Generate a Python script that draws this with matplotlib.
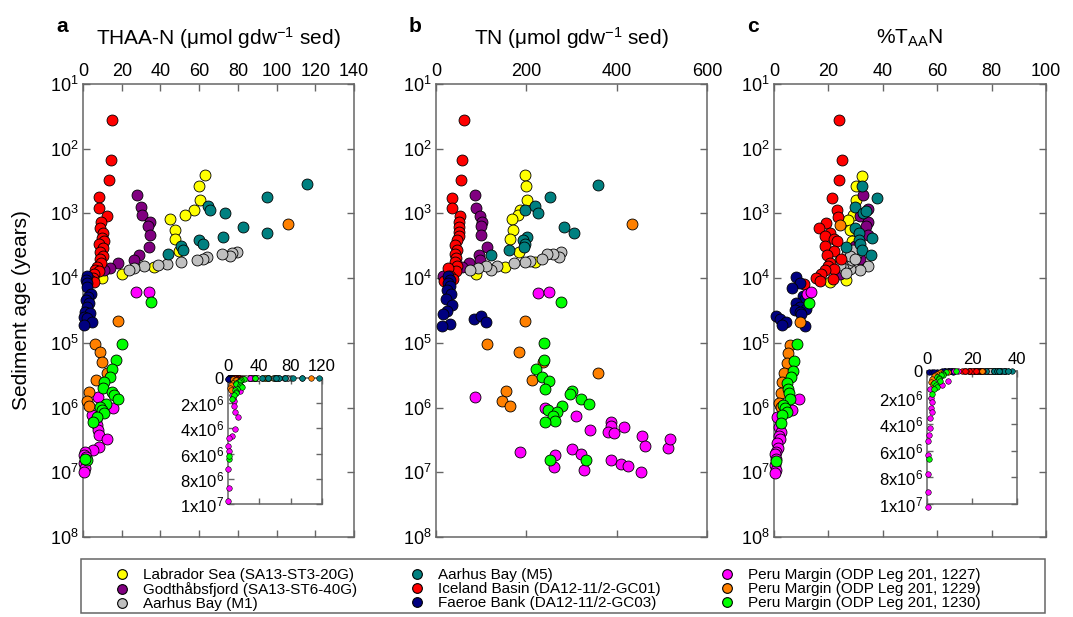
import matplotlib
matplotlib.use("Agg")
import matplotlib.pyplot as plt
from matplotlib.lines import Line2D
from matplotlib.patches import Rectangle
from matplotlib.ticker import FuncFormatter, LogLocator, MultipleLocator, NullLocator

plt.rcParams["font.family"] = ["Liberation Sans", "DejaVu Sans"]
plt.rcParams["mathtext.fontset"] = "custom"
plt.rcParams["mathtext.rm"] = "Liberation Sans"
plt.rcParams["mathtext.it"] = "Liberation Sans:italic"

SITES = [
    "Labrador Sea (SA13-ST3-20G)",
    "Godthåbsfjord (SA13-ST6-40G)",
    "Aarhus Bay (M1)",
    "Aarhus Bay (M5)",
    "Iceland Basin (DA12-11/2-GC01)",
    "Faeroe Bank (DA12-11/2-GC03)",
    "Peru Margin (ODP Leg 201, 1227)",
    "Peru Margin (ODP Leg 201, 1229)",
    "Peru Margin (ODP Leg 201, 1230)",
]
COLORS = ["#ffff00", "#800080", "#c0c0c0", "#008080", "#ff0000",
          "#000080", "#ff00ff", "#ff8000", "#00ff00"]

# (value, log10 sediment age in years)

# panel a: THAA-N
LAB_A = [(63.1, 2.40), (59.7, 2.58), (60.3, 2.80), (57.1, 2.94), (52.8, 3.02), (45.1, 3.09),
         (47.3, 3.25), (47.6, 3.40), (49.4, 3.58), (36.5, 3.83), (20.3, 3.93), (9.8, 4.00)]
GOD_A = [(27.9, 2.71), (29.9, 2.90), (30.6, 3.03), (34.7, 3.13), (33.7, 3.19), (34.7, 3.33),
         (33.9, 3.52), (28.7, 3.64), (26.5, 3.72), (17.9, 3.77), (14.1, 3.84), (10.7, 3.88)]
M1_A = [(79.8, 3.59), (76.9, 3.61), (75.7, 3.66), (72.0, 3.63), (64.0, 3.67), (61.9, 3.70),
        (58.8, 3.72), (50.6, 3.75), (43.4, 3.78), (38.5, 3.80), (31.3, 3.82), (26.5, 3.84),
        (23.6, 3.87)]
M5_A = [(115.6, 2.55), (94.9, 2.75), (64.8, 2.89), (65.7, 2.94), (73.1, 2.99), (82.6, 3.21),
        (94.9, 3.30), (72.2, 3.36), (59.7, 3.41), (61.9, 3.47), (50.6, 3.51), (51.6, 3.56),
        (43.7, 3.62)]
ICE_A = [(15.0, 1.55), (14.4, 2.17), (13.2, 2.48), (8.1, 2.75), (8.1, 2.91), (12.4, 3.04),
         (9.3, 3.14), (8.6, 3.22), (10.3, 3.30), (9.8, 3.38), (10.7, 3.43), (8.1, 3.48),
         (10.3, 3.53), (8.9, 3.60), (10.3, 3.66), (8.6, 3.71), (9.3, 3.76), (7.2, 3.83),
         (6.4, 3.87), (8.1, 3.89), (5.5, 3.94), (5.2, 4.00), (3.8, 4.03), (5.5, 4.06)]
FAE_A = [(1.9, 3.97), (1.5, 4.03), (2.2, 4.08), (1.9, 4.13), (4.0, 4.24), (2.8, 4.29),
         (1.5, 4.34), (3.3, 4.39), (1.9, 4.44), (1.0, 4.52), (3.6, 4.54), (0.5, 4.60),
         (2.2, 4.62), (4.5, 4.67), (0.5, 4.72)]
P1227_A = [(27.5, 4.22), (33.9, 4.21), (7.9, 5.83), (15.3, 6.01), (4.5, 6.12), (6.7, 6.19),
           (7.4, 6.27), (7.9, 6.35), (8.4, 6.43), (12.2, 6.49), (8.4, 6.61), (5.3, 6.66),
           (1.0, 6.68), (0.5, 6.73), (1.5, 6.76), (0.5, 6.86), (1.0, 6.94), (0.5, 6.99)]
P1229_A = [(105.8, 3.17), (18.2, 4.66), (6.2, 5.02), (8.8, 5.14), (9.7, 5.29), (12.2, 5.46),
           (6.7, 5.58), (3.3, 5.76), (2.2, 5.90), (3.3, 5.98)]
P1230_A = [(35.1, 4.37), (20.0, 5.01), (17.0, 5.26), (14.8, 5.41), (13.9, 5.52), (10.8, 5.60),
           (10.2, 5.70), (14.8, 5.76), (16.0, 5.81), (18.2, 5.86), (11.9, 5.95), (8.8, 5.99),
           (9.7, 6.04), (10.8, 6.08), (7.1, 6.14), (5.3, 6.22), (1.9, 6.81), (1.0, 6.79)]

# panel b: TN
LAB_B = [(196, 2.40), (200, 2.58), (201, 2.80), (187, 2.94), (181, 3.02), (168, 3.09),
         (170, 3.25), (164, 3.40), (184, 3.59), (220, 3.75), (153, 3.83), (88, 3.94)]
GOD_B = [(87, 2.71), (88, 2.91), (98, 3.04), (101, 3.13), (99, 3.19), (100, 3.33),
         (113, 3.52), (96, 3.64), (98, 3.72), (72, 3.77), (57, 3.83), (15, 3.96)]
M1_B = [(277, 3.59), (272, 3.67), (259, 3.63), (246, 3.62), (235, 3.70), (209, 3.73),
        (196, 3.75), (173, 3.77), (135, 3.82), (121, 3.87), (111, 3.81), (92, 3.84), (76, 3.87)]
M5_B = [(359, 2.56), (253, 2.75), (196, 2.94), (220, 2.89), (225, 3.00), (283, 3.21),
        (305, 3.30), (201, 3.37), (193, 3.41), (196, 3.47), (194, 3.52), (161, 3.56), (122, 3.64)]
ICE_B = [(63, 1.55), (57, 2.17), (55, 2.48), (36, 2.76), (35, 2.92), (53, 3.04), (50, 3.14),
         (51, 3.21), (52, 3.29), (50, 3.35), (46, 3.41), (42, 3.49), (47, 3.56), (42, 3.62),
         (45, 3.69), (42, 3.75), (46, 3.82), (45, 3.89), (27, 3.84), (31, 3.96), (18, 4.05),
         (37, 4.02)]
FAE_B = [(27, 3.96), (30, 4.03), (27, 4.07), (30, 4.12), (24, 4.18), (33, 4.24), (22, 4.32),
         (35, 4.42), (24, 4.51), (15, 4.55), (31, 4.71), (13, 4.74), (85, 4.63), (99, 4.59),
         (111, 4.67)]
P1227_B = [(225, 4.23), (250, 4.21), (87, 5.84), (242, 6.01), (311, 6.13), (341, 6.34),
           (387, 6.23), (387, 6.29), (381, 6.37), (395, 6.40), (416, 6.30), (455, 6.44),
           (462, 6.59), (514, 6.62), (518, 6.48), (301, 6.64), (322, 6.71), (187, 6.68),
           (264, 6.74), (387, 6.81), (410, 6.87), (425, 6.90), (262, 6.92), (327, 6.96),
           (453, 6.99)]
P1229_B = [(433, 3.17), (196, 4.66), (114, 5.02), (183, 5.14), (237, 5.29), (359, 5.46),
           (213, 5.58), (156, 5.75), (147, 5.90), (163, 5.98)]
P1230_B = [(276, 4.37), (239, 5.00), (240, 5.26), (221, 5.41), (235, 5.53), (250, 5.59),
           (242, 5.71), (301, 5.75), (296, 5.79), (321, 5.86), (339, 5.95), (279, 5.98),
           (247, 6.03), (267, 6.07), (259, 6.13), (264, 6.20), (241, 6.23), (252, 6.81),
           (333, 6.81)]

# panel c: %TAAN
LAB_C = [(32.5, 2.42), (30.3, 2.58), (30.1, 2.80), (29.1, 3.03), (27.2, 3.10), (27.9, 3.26),
         (28.8, 3.43), (27.6, 3.58), (24.2, 3.72), (25.6, 3.86), (26.4, 4.03), (20.7, 4.06)]
GOD_C = [(32.8, 2.72), (34.6, 2.93), (31.5, 3.04), (34.6, 3.14), (33.7, 3.20), (34.6, 3.33),
         (29.7, 3.51), (31.5, 3.71), (27.6, 3.84), (26.9, 3.87), (24.2, 3.93)]
M1_C = [(34.6, 3.82), (31.5, 3.87), (27.9, 3.86), (27.2, 3.76), (28.5, 3.72), (26.9, 3.62),
        (30.3, 3.64), (29.1, 3.56), (25.4, 3.84), (27.9, 3.66), (24.2, 3.79), (29.7, 3.71),
        (26.4, 3.92)]
M5_C = [(32.5, 2.57), (37.7, 2.76), (29.7, 2.90), (32.8, 3.00), (34.0, 2.97), (29.7, 3.22),
        (31.3, 3.30), (36.2, 3.38), (31.3, 3.41), (31.8, 3.48), (32.2, 3.56), (26.4, 3.52),
        (35.8, 3.64)]
ICE_C = [(23.9, 1.56), (25.0, 2.17), (23.9, 2.48), (21.5, 2.76), (23.2, 2.94), (23.6, 3.06),
         (19.0, 3.15), (16.6, 3.23), (20.7, 3.30), (18.7, 3.35), (22.0, 3.40), (23.3, 3.43),
         (18.7, 3.51), (22.0, 3.58), (19.5, 3.64), (24.5, 3.70), (20.7, 3.76), (19.9, 3.82),
         (22.0, 3.86), (18.7, 3.88), (17.4, 3.93), (15.6, 4.00), (21.7, 4.02), (16.8, 4.05),
         (11.0, 4.09)]
FAE_C = [(8.0, 3.98), (9.4, 4.07), (6.7, 4.15), (10.7, 4.28), (11.3, 4.33), (8.2, 4.38),
         (9.7, 4.44), (11.9, 4.47), (7.6, 4.49), (9.4, 4.53), (10.1, 4.56), (0.9, 4.59),
         (2.1, 4.63), (4.3, 4.68), (3.1, 4.72), (11.5, 4.74)]
P1227_C = [(12.1, 4.24), (13.7, 4.22), (9.2, 5.86), (6.8, 6.03), (1.2, 6.14), (1.8, 6.30),
           (2.4, 6.37), (1.8, 6.44), (2.1, 6.49), (1.2, 6.55), (1.5, 6.63), (0.9, 6.68),
           (0.3, 6.72), (0.6, 6.80), (0.3, 6.89), (0.6, 6.96), (0.3, 7.01)]
P1229_C = [(24.4, 3.18), (9.5, 4.67), (5.8, 5.03), (5.2, 5.15), (4.6, 5.31), (3.7, 5.47),
           (3.1, 5.60), (2.4, 5.78), (1.8, 5.93), (2.7, 5.99)]
P1230_C = [(12.9, 4.38), (8.6, 5.02), (7.2, 5.28), (7.0, 5.43), (6.4, 5.52), (4.6, 5.62),
           (5.2, 5.72), (5.5, 5.78), (5.8, 5.87), (3.3, 5.96), (3.9, 6.01), (4.6, 6.07),
           (3.1, 6.12), (2.4, 6.24), (0.9, 6.82)]

PANEL_A = [LAB_A, GOD_A, M1_A, M5_A, ICE_A, FAE_A, P1227_A, P1229_A, P1230_A]
PANEL_B = [LAB_B, GOD_B, M1_B, M5_B, ICE_B, FAE_B, P1227_B, P1229_B, P1230_B]
PANEL_C = [LAB_C, GOD_C, M1_C, M5_C, ICE_C, FAE_C, P1227_C, P1229_C, P1230_C]

W, H = 1073, 617
SPINE = "#666666"


def fx(px):
    return px / W


def fy(py):
    return 1 - py / H


def style_box(ax, labelsize):
    for sp in ax.spines.values():
        sp.set_color(SPINE)
        sp.set_linewidth(1.1)
    ax.tick_params(which="both", direction="in", top=True, bottom=True, left=True, right=True,
                   labeltop=True, labelbottom=False, labelleft=True, labelright=False,
                   length=5, width=1, color=SPINE, labelsize=labelsize, pad=3)


def scatter_panel(ax, series, size, linear=False):
    for pts, col in zip(series, COLORS):
        xs = [p[0] for p in pts]
        ys = [10 ** p[1] for p in pts]
        ax.scatter(xs, ys, s=size, c=col, edgecolors="black", linewidths=0.6 if not linear else 0.4,
                   clip_on=False, zorder=3)


fig = plt.figure(figsize=(W / 100, H / 100), dpi=100)

panels = [
    (83, 354, PANEL_A, 140, 20, r"THAA-N (μmol gdw$^{-1}$ sed)", "a"),
    (436, 707, PANEL_B, 600, 200, r"TN (μmol gdw$^{-1}$ sed)", "b"),
    (774, 1046, PANEL_C, 100, 20, r"%T$_{\mathregular{AA}}$N", "c"),
]
axes = []
for left, right, series, xmax, step, title, letter in panels:
    ax = fig.add_axes([fx(left), fy(537), fx(right - left), (537 - 84) / H])
    scatter_panel(ax, series, 62)
    ax.set_yscale("log")
    ax.set_ylim(1e8, 1e1)
    ax.yaxis.set_major_locator(LogLocator(base=10, numticks=12))
    ax.yaxis.set_minor_locator(NullLocator())
    ax.set_xlim(0, xmax)
    ax.xaxis.set_major_locator(MultipleLocator(step))
    style_box(ax, 13)
    fig.text(fx((left + right) / 2), fy(38), title, ha="center", va="center", fontsize=15)
    fig.text(fx(left - 27), fy(27), letter, ha="left", va="center", fontsize=15,
             fontweight="bold")
    axes.append(ax)

fig.text(fx(22), fy(310), "Sediment age (years)", rotation=90, ha="center", va="center",
         fontsize=15)


def sci(v, _):
    if v == 0:
        return "0"
    exp = int(f"{v:e}".split("e")[1])
    mant = v / 10 ** exp
    return r"$\mathdefault{%dx10^{%d}}$" % (round(mant), exp)


insets = [
    ((228, 378, 322, 504), PANEL_A, 120, 40),
    ((927, 371, 1017, 504), PANEL_C, 40, 20),
]
for (l, t, r, b), series, xmax, step in insets:
    axi = fig.add_axes([fx(l), fy(b), fx(r - l), (b - t) / H])
    scatter_panel(axi, series, 16, linear=True)
    axi.set_xlim(0, xmax)
    axi.set_ylim(1e7, 0)
    axi.xaxis.set_major_locator(MultipleLocator(step))
    axi.yaxis.set_major_locator(MultipleLocator(2e6))
    axi.yaxis.set_major_formatter(FuncFormatter(sci))
    style_box(axi, 12)
    axi.tick_params(length=4)

# legend: framed box with three columns
fig.add_artist(Rectangle((fx(81), fy(613)), fx(1045 - 81), (613 - 559) / H, transform=fig.transFigure,
                         fill=False, edgecolor=SPINE, linewidth=1.1))
col_x = [114, 409, 719]
for k, x0 in enumerate(col_x):
    handles = [Line2D([], [], marker="o", linestyle="none", markersize=7, markerfacecolor=COLORS[i],
                      markeredgecolor="black", markeredgewidth=0.8)
               for i in range(3 * k, 3 * k + 3)]
    fig.legend(handles, SITES[3 * k:3 * k + 3], loc="upper left", bbox_to_anchor=(fx(x0), fy(568)),
               frameon=False, fontsize=11, borderpad=0, borderaxespad=0, handlelength=1.0,
               handletextpad=0.9, labelspacing=0.0)

fig.savefig("out.png", dpi=100)
